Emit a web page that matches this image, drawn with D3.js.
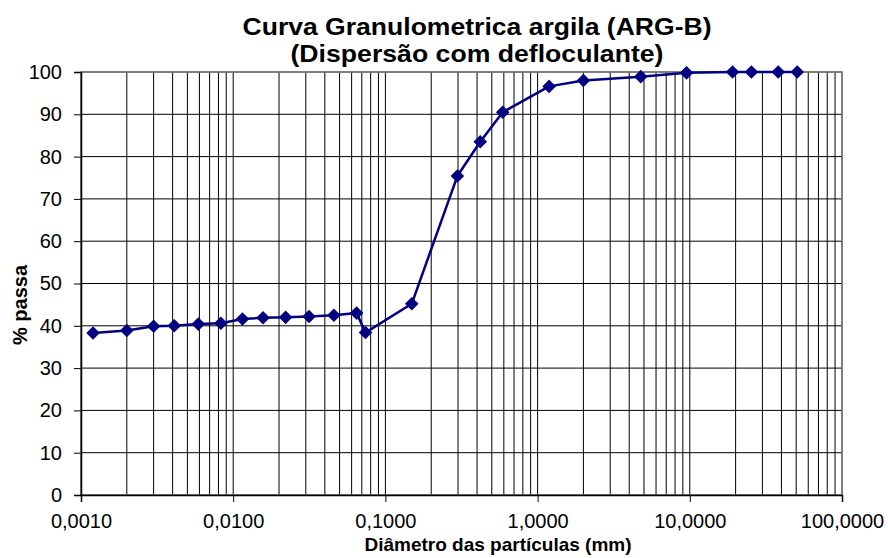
<!DOCTYPE html>
<html>
<head>
<meta charset="utf-8">
<script src="https://cdn.jsdelivr.net/npm/d3@7"></script>
<style>
  html, body { margin: 0; padding: 0; background: #fff; }
  svg { display: block; font-family: "Liberation Sans", Arial, sans-serif; }
</style>
</head>
<body>
<svg id="chart" width="888" height="558"></svg>
<script>
// Grain-size distribution: sieve analysis followed by sedimentation readings
const diametro = [50.8, 38.1, 25.4, 19.1, 9.52, 4.76, 2.0, 1.19, 0.59, 0.42, 0.297, 0.149, 0.074,
                  0.0647, 0.0459, 0.0315, 0.0221, 0.0157, 0.0115, 0.0083, 0.0059, 0.0041, 0.0030, 0.0020, 0.0012];
const passa    = [100, 100, 100, 100, 99.8, 98.9, 98.0, 96.6, 90.5, 83.5, 75.4, 45.2, 38.4,
                  43.0, 42.5, 42.2, 42.0, 41.9, 41.6, 40.6, 40.4, 40.0, 39.9, 38.9, 38.3];

const xTicks = [0.001, 0.01, 0.1, 1, 10, 100];
const xTickLabels = ["0,0010", "0,0100", "0,1000", "1,0000", "10,0000", "100,0000"];
const yTicks = [0, 10, 20, 30, 40, 50, 60, 70, 80, 90, 100];

const titleLines = ["Curva Granulometrica argila (ARG-B)", "(Dispersão com defloculante)"];
const xTitle = "Diâmetro das partículas (mm)";
const yTitle = "% passa";

const svg = d3.select("#chart");
const plotL = 81, plotR = 842, plotT = 72, plotB = 495;

const x = d3.scaleLog().domain([0.001, 100]).range([plotL, plotR]);
const y = d3.scaleLinear().domain([0, 100]).range([plotB, plotT]);

// minor + major vertical grid lines (1..9 per decade)
const vGrid = [];
for (let e = -3; e < 2; e++) {
  for (let m = 1; m <= 9; m++) vGrid.push(m * Math.pow(10, e));
}
vGrid.push(100);

const grid = svg.append("g");
grid.selectAll("line.v").data(vGrid).join("line")
  .attr("class", "v")
  .attr("x1", d => x(d)).attr("x2", d => x(d))
  .attr("y1", plotT).attr("y2", plotB)
  .attr("stroke", "#000").attr("stroke-width", 1);
grid.selectAll("line.h").data(yTicks).join("line")
  .attr("class", "h")
  .attr("x1", plotL).attr("x2", plotR)
  .attr("y1", d => y(d)).attr("y2", d => y(d))
  .attr("stroke", "#000").attr("stroke-width", 1);

// plot frame
svg.append("rect")
  .attr("x", plotL).attr("y", plotT)
  .attr("width", plotR - plotL).attr("height", plotB - plotT)
  .attr("fill", "none").attr("stroke", "#808080").attr("stroke-width", 1.5);

// axes
const yAxis = d3.axisLeft(y).tickValues(yTicks).tickSize(7).tickPadding(12)
  .tickFormat(d3.format("d"));
const gy = svg.append("g").attr("transform", `translate(${plotL},0)`).call(yAxis);
gy.select(".domain").attr("stroke", "#000").attr("stroke-width", 1.5);
gy.selectAll(".tick line").attr("stroke", "#000");
gy.selectAll(".tick text").attr("font-size", 20).attr("fill", "#000")
  .attr("font-family", "Liberation Sans, Arial, sans-serif");

const xAxis = d3.axisBottom(x).tickValues(xTicks).tickSize(7).tickPadding(10)
  .tickFormat((d, i) => xTickLabels[i]);
const gx = svg.append("g").attr("transform", `translate(0,${plotB})`).call(xAxis);
gx.select(".domain").attr("stroke", "#000").attr("stroke-width", 1.5);
gx.selectAll(".tick line").attr("stroke", "#000");
gx.selectAll(".tick text").attr("font-size", 20).attr("fill", "#000")
  .attr("dy", null).attr("y", 33)
  .attr("font-family", "Liberation Sans, Arial, sans-serif");

// data curve
const pts = diametro.map((d, i) => [d, passa[i]]);
svg.append("path")
  .datum(pts)
  .attr("fill", "none")
  .attr("stroke", "#000080")
  .attr("stroke-width", 2.5)
  .attr("stroke-linejoin", "round")
  .attr("d", d3.line().x(d => x(d[0])).y(d => y(d[1])));

const diamond = d3.symbol().type(d3.symbolDiamond2).size(118);
svg.selectAll("path.mk").data(pts).join("path")
  .attr("class", "mk")
  .attr("transform", d => `translate(${x(d[0])},${y(d[1])})`)
  .attr("d", diamond)
  .attr("fill", "#000080");

// titles
const titleWidths = [469, 373];
svg.selectAll("text.title").data(titleLines).join("text")
  .attr("class", "title")
  .attr("x", 477).attr("y", (d, i) => 35 + i * 27)
  .attr("text-anchor", "middle")
  .attr("font-size", 24).attr("font-weight", "bold")
  .attr("textLength", (d, i) => titleWidths[i])
  .attr("lengthAdjust", "spacingAndGlyphs")
  .text(d => d);

svg.append("text")
  .attr("x", 498).attr("y", 551)
  .attr("text-anchor", "middle")
  .attr("font-size", 19).attr("font-weight", "bold")
  .text(xTitle);

svg.append("text")
  .attr("transform", "translate(27,305) rotate(-90)")
  .attr("text-anchor", "middle")
  .attr("font-size", 20).attr("font-weight", "bold")
  .text(yTitle);
</script>
</body>
</html>
